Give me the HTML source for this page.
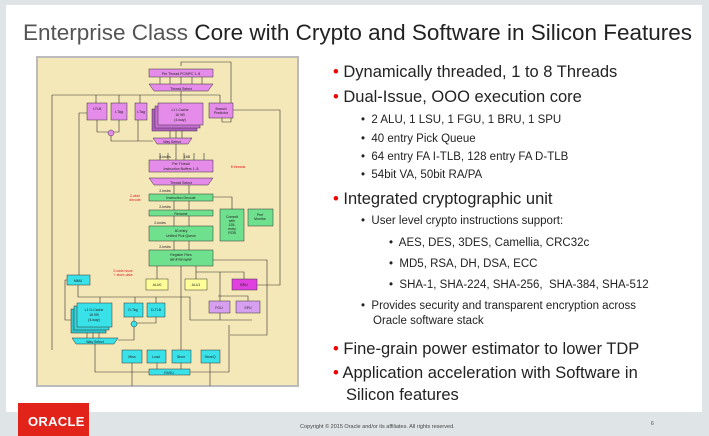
<!DOCTYPE html>
<html><head><meta charset="utf-8"><style>
body{margin:0;width:709px;height:436px;overflow:hidden;background:#dfe4e6;font-family:"Liberation Sans",sans-serif;position:relative}
.panel{position:absolute;left:6px;top:5px;width:696px;height:407px;background:#fff}
.t{position:absolute;white-space:nowrap;color:#222}
.b1{font-size:16.5px}
.b2{font-size:11.5px}
.dot{color:#e00}
</style></head><body>
<div class="panel"></div>
<div class="t" style="left:23px;top:20px;font-size:22.5px;color:#222"><span style="color:#555">Enterprise Class</span> Core with Crypto and Software in Silicon Features</div>
<div class="t b1" style="left:333px;top:63px"><span class="dot">•</span> Dynamically threaded, 1 to 8 Threads</div>
<div class="t b1" style="left:333px;top:88px"><span class="dot">•</span> Dual-Issue, OOO execution core</div>
<div class="t b2" style="left:361px;top:114px">•&nbsp; 2 ALU, 1 LSU, 1 FGU, 1 BRU, 1 SPU</div>
<div class="t b2" style="left:361px;top:133px">•&nbsp; 40 entry Pick Queue</div>
<div class="t b2" style="left:361px;top:151px">•&nbsp; 64 entry FA I-TLB, 128 entry FA D-TLB</div>
<div class="t b2" style="left:361px;top:169px">•&nbsp; 54bit VA, 50bit RA/PA</div>
<div class="t b1" style="left:333px;top:190px"><span class="dot">•</span> Integrated cryptographic unit</div>
<div class="t b2" style="left:361px;top:215px">•&nbsp; User level crypto instructions support:</div>
<div class="t b2" style="left:389px;top:237px">•&nbsp; AES, DES, 3DES, Camellia, CRC32c</div>
<div class="t b2" style="left:389px;top:258px">•&nbsp; MD5, RSA, DH, DSA, ECC</div>
<div class="t b2" style="left:389px;top:279px">•&nbsp; SHA-1, SHA-224, SHA-256,&nbsp; SHA-384, SHA-512</div>
<div class="t b2" style="left:361px;top:300px">•&nbsp; Provides security and transparent encryption across</div>
<div class="t b2" style="left:373px;top:315px">Oracle software stack</div>
<div class="t b1" style="left:333px;top:340px"><span class="dot">•</span> Fine-grain power estimator to lower TDP</div>
<div class="t b1" style="left:333px;top:364px"><span class="dot">•</span> Application acceleration with Software in</div>
<div class="t b1" style="left:346px;top:386px">Silicon features</div>
<div style="position:absolute;left:18px;top:403px;width:71px;height:33px;background:#e2231a"></div>
<div class="t" style="left:28px;top:414px;font-size:13px;font-weight:bold;color:#fff;letter-spacing:0.3px">ORACLE</div>
<div class="t" style="left:300px;top:424px;font-size:5.5px;color:#444">Copyright © 2015 Oracle and/or its affiliates. All rights reserved.</div>
<div class="t" style="left:651px;top:421px;font-size:5px;color:#444">6</div>
<svg style="position:absolute;left:0;top:0" width="709" height="436" font-family="Liberation Sans" font-size="3.5" text-anchor="middle">
<rect x="37" y="57" width="261" height="329" fill="#f4e7b8" stroke="#bbb" stroke-width="2"/>
<g stroke="#333" stroke-width="0.6" fill="none">
<polyline points="181,66 181,62 231,62 231,122 222,122 222,118"/>
<line x1="181" y1="77" x2="181" y2="84"/><line x1="160" y1="77" x2="160" y2="84"/><line x1="170" y1="77" x2="170" y2="84"/><line x1="192" y1="77" x2="192" y2="84"/><line x1="202" y1="77" x2="202" y2="84"/>
<polyline points="52,350 52,95 220,95 220,103"/>
<line x1="96" y1="95" x2="96" y2="103"/><line x1="119" y1="95" x2="119" y2="103"/><line x1="140" y1="95" x2="140" y2="103"/><line x1="181" y1="91" x2="181" y2="103"/>
<line x1="170" y1="125" x2="170" y2="138"/><line x1="176" y1="125" x2="176" y2="138"/><line x1="182" y1="125" x2="182" y2="138"/>
<polyline points="97,120 97,132 108,132"/><polyline points="119,120 119,132 114,132"/><polyline points="111,135 111,141 153,141"/><polyline points="138,120 138,141"/>
<line x1="176" y1="144" x2="176" y2="160"/>
<line x1="160" y1="153" x2="160" y2="160"/><line x1="168" y1="153" x2="168" y2="160"/><line x1="184" y1="153" x2="184" y2="160"/><line x1="194" y1="153" x2="194" y2="160"/><line x1="204" y1="153" x2="204" y2="160"/>
<line x1="174" y1="185" x2="174" y2="194"/><line x1="189" y1="185" x2="189" y2="194"/>
<line x1="174" y1="201" x2="174" y2="210"/><line x1="189" y1="201" x2="189" y2="210"/>
<polyline points="213,197 232,197 232,209"/>
<line x1="174" y1="216" x2="174" y2="226"/><line x1="189" y1="216" x2="189" y2="226"/>
<line x1="174" y1="241" x2="174" y2="250"/><line x1="189" y1="241" x2="189" y2="250"/>
<line x1="157" y1="266" x2="157" y2="279"/><line x1="181" y1="266" x2="181" y2="350"/><line x1="196" y1="266" x2="196" y2="279"/>
<polyline points="196,272 244,272 244,279"/><polyline points="220,272 220,301"/><polyline points="213,260 267,260 267,335 230,335"/>
<polyline points="257,285 280,285 280,110 233,110"/>
<polyline points="78,280 65,280 65,320 77,320"/><polyline points="79,275 79,113 87,113"/>
<polyline points="78,285 78,297 190,297 190,320"/><line x1="100" y1="297" x2="100" y2="303"/><line x1="135" y1="297" x2="135" y2="303"/><line x1="156" y1="297" x2="156" y2="303"/>
<polyline points="218,296 248,296 248,301"/>
<line x1="190" y1="320" x2="252" y2="320"/><line x1="220" y1="313" x2="220" y2="320"/>
<line x1="87" y1="327" x2="87" y2="338"/><line x1="93" y1="327" x2="93" y2="338"/><line x1="99" y1="327" x2="99" y2="338"/>
<polyline points="134,317 134,321"/><polyline points="156,317 156,323 137,323"/><polyline points="134,327 134,340 118,340"/>
<polyline points="95,344 95,372 149,372"/><line x1="132" y1="363" x2="132" y2="386"/><line x1="157" y1="363" x2="157" y2="369"/><line x1="181" y1="363" x2="181" y2="369"/><line x1="210" y1="363" x2="210" y2="386"/><polyline points="190,372 229,372 229,325"/>
</g>
<g stroke="#333" stroke-width="0.5">
<rect x="149" y="69" width="64" height="8" fill="#e58be9"/>
<polygon points="149,84 213,84 208,91 154,91" fill="#e58be9"/>
<rect x="87" y="103" width="20" height="17" fill="#e58be9"/>
<rect x="111" y="103" width="16" height="17" fill="#e58be9"/>
<rect x="135" y="103" width="12" height="17" fill="#e58be9"/>
<rect x="152" y="109" width="45" height="22" fill="#b05cc0"/>
<rect x="155" y="106" width="45" height="22" fill="#c970d6"/>
<rect x="158" y="103" width="45" height="22" fill="#e58be9"/>
<rect x="209" y="103" width="24" height="15" fill="#e58be9"/>
<circle cx="111" cy="133" r="3" fill="#e58be9"/>
<polygon points="153,138 192,138 188,144 157,144" fill="#e58be9"/>
<rect x="149" y="160" width="64" height="12" fill="#e58be9"/>
<polygon points="149,178 213,178 208,185 154,185" fill="#e58be9"/>
<rect x="149" y="194" width="64" height="7" fill="#6fe08d"/>
<rect x="149" y="210" width="64" height="6" fill="#6fe08d"/>
<rect x="149" y="226" width="64" height="15" fill="#6fe08d"/>
<rect x="220" y="209" width="24" height="32" fill="#6fe08d"/>
<rect x="248" y="209" width="25" height="17" fill="#6fe08d"/>
<rect x="149" y="250" width="64" height="16" fill="#6fe08d"/>
<rect x="67" y="275" width="23" height="10" fill="#39e1e8"/>
<rect x="146" y="279" width="22" height="11" fill="#ffff99"/>
<rect x="185" y="279" width="22" height="11" fill="#ffff99"/>
<rect x="232" y="279" width="25" height="11" fill="#e040e0"/>
<rect x="209" y="301" width="21" height="12" fill="#d79ff0"/>
<rect x="236" y="301" width="24" height="12" fill="#d79ff0"/>
<rect x="71" y="309" width="35" height="24" fill="#2bc8d0"/>
<rect x="74" y="306" width="35" height="24" fill="#33d6dd"/>
<rect x="77" y="303" width="35" height="24" fill="#39e1e8"/>
<rect x="124" y="303" width="19" height="14" fill="#39e1e8"/>
<rect x="147" y="303" width="18" height="14" fill="#39e1e8"/>
<circle cx="134" cy="324" r="3" fill="#39e1e8"/>
<polygon points="72,338 118,338 114,344 76,344" fill="#39e1e8"/>
<rect x="122" y="350" width="20" height="13" fill="#39e1e8"/>
<rect x="147" y="350" width="19" height="13" fill="#39e1e8"/>
<rect x="172" y="350" width="19" height="13" fill="#39e1e8"/>
<rect x="201" y="350" width="19" height="13" fill="#39e1e8"/>
<rect x="149" y="369" width="41" height="6" fill="#39e1e8"/>
</g>
<g fill="#222">
<text x="181" y="75">Per Thread PC/NPC 1..8</text><text x="181" y="90">Thread Select</text>
<text x="97" y="110">I-TLB</text><text x="119" y="113">I-Tag</text><text x="141" y="113">I-Tag</text>
<text x="180" y="111">L1 I-Cache</text><text x="180" y="116">16 KB</text><text x="180" y="121">(4-way)</text>
<text x="221" y="110">Branch</text><text x="221" y="114">Predictor</text>
<text x="172" y="143">Way Select</text>
<text x="181" y="165">Per Thread</text><text x="181" y="170">Instruction Buffers 1..8</text><text x="181" y="184">Thread Select</text>
<text x="181" y="199">Instruction Decode</text><text x="181" y="215">Rename</text>
<text x="181" y="232">40-entry</text><text x="181" y="237">Unified Pick Queue</text>
<text x="232" y="218">Commit</text><text x="232" y="222">with</text><text x="232" y="226">128-</text><text x="232" y="230">entry</text><text x="232" y="234">ROB</text>
<text x="260" y="216">Perf</text><text x="260" y="220">Monitor</text>
<text x="181" y="256">Register Files</text><text x="181" y="261">IRF/FRF/WRF</text>
<text x="78" y="282">MMU</text><text x="157" y="286">ALU0</text><text x="196" y="286">ALU1</text><text x="244" y="286">BRU</text>
<text x="219" y="309">FGU</text><text x="248" y="309">SPU</text>
<text x="94" y="311">L1 D-Cache</text><text x="94" y="316">16 KB</text><text x="94" y="321">(4-way)</text>
<text x="133" y="311">D-Tag</text><text x="156" y="311">D-TLB</text><text x="95" y="343">Way Select</text>
<text x="132" y="358">Miss</text><text x="156" y="358">Load</text><text x="181" y="358">Store</text><text x="210" y="358">StoreQ</text>
<text x="169" y="374">RASU</text>
<text x="165" y="158">4-instrs</text><text x="187" y="158">16B</text>
<text x="165" y="192">2-instrs</text><text x="165" y="208">2-instrs</text><text x="160" y="224">2-instrs</text><text x="165" y="248">2-instrs</text>
</g>
<g fill="#e02020"><text x="238" y="168">8 threads</text><text x="135" y="197">2-wide</text><text x="135" y="201">decode</text><text x="123" y="272">2-wide issue</text><text x="123" y="276">+ store-data</text></g>
</svg>
</body></html>
